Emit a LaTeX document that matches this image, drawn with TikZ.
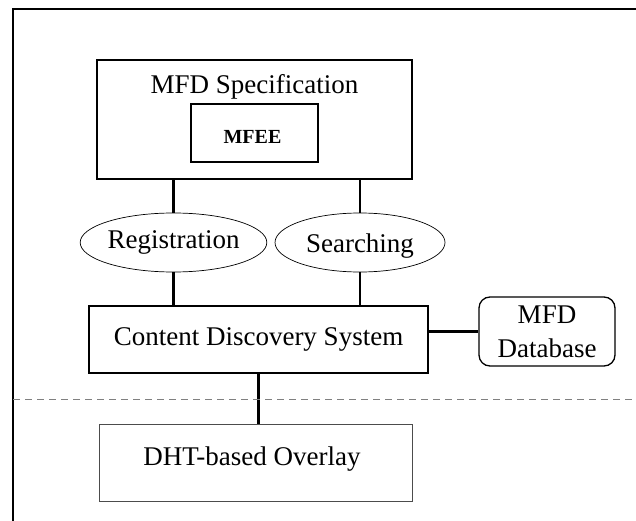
\documentclass[tikz,border=0pt]{standalone}
\usepackage{fontspec}
\setmainfont{Liberation Serif}
\usetikzlibrary{shapes.geometric}

\tikzset{
  box/.style={draw, line width=1.3pt, inner sep=0pt},
  oval/.style={ellipse, draw, line width=0.7pt, inner sep=0pt},
  link/.style={line width=2.6pt},
  txt/.style={font=\fontsize{27}{34}\selectfont}
}

\begin{document}
\begin{tikzpicture}[x=1pt,y=-1pt]
    \useasboundingbox (0,0) rectangle (636,521);
    % outer frame (only top and left show)
    \draw[line width=2.2pt] (13,521) -- (13,9) -- (636,9);

    \node[box, minimum width=315pt, minimum height=119pt] (spec) at (254.5,119.5) {};
    \node[txt] (spectitle) at (254.5,87) {MFD Specification};
    \node[box, minimum width=127pt, minimum height=58pt] (mfee) at (254.5,133) {};
    \node[font=\fontsize{20}{24}\selectfont\bfseries] (mfeetxt) at (252.5,137) {MFEE};

    \node[oval, txt, minimum width=170pt, minimum height=59pt] (reg) at (173.5,242.5) {Registration};
    \node[oval, txt, minimum width=170pt, minimum height=59pt] (search) at (360,242.5) {};
    \node[txt] (searchtxt) at (360,246) {Searching};

    \node[box, txt, minimum width=339pt, minimum height=67pt] (cds) at (258.5,339.5) {Content Discovery System};
    \node[box, txt, rounded corners=11pt, align=center, minimum width=136pt, minimum height=69pt] (dbase) at (547,331.5) {MFD\\Database};
    \node[draw, gray!60!black, line width=0.8pt, minimum width=313pt, minimum height=77pt] (dht) at (255.5,462.5) {};
    \node[txt] (dhttxt) at (252,459) {DHT-based Overlay};

    \draw[link] (spec.south -| reg.north) -- (reg.north);
    \draw[link] (spec.south -| search.north) -- (search.north);
    \draw[link] (reg.south) -- (reg.south |- cds.north);
    \draw[link] (search.south) -- (search.south |- cds.north);
    \draw[link] (cds.east |- dbase.west) -- (dbase.west);
    \draw[link] (cds.south) -- (cds.south |- dht.north);

    % overlay boundary
    \coordinate (sepL) at (13,399);
    \coordinate (sepR) at (636,399);
    \draw[gray, line width=0.8pt, dash pattern=on 7pt off 5pt] (sepL) -- (sepR);
  \end{tikzpicture}
\end{document}
